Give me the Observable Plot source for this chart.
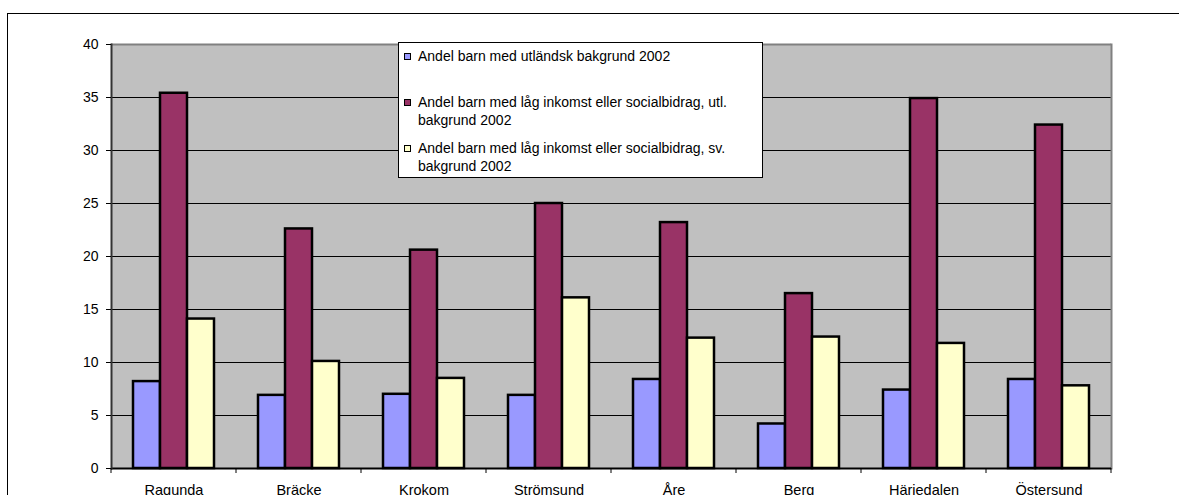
<!DOCTYPE html>
<html>
<head>
<meta charset="utf-8">
<script src="https://cdn.jsdelivr.net/npm/d3@7"></script>
<script src="https://cdn.jsdelivr.net/npm/@observablehq/plot@0.6"></script>
<style>
  body { margin: 0; background: #fff; font-family: "Liberation Sans", Arial, sans-serif; }
  #wrap { position: relative; width: 1179px; height: 495px; overflow: hidden; }
  #border { position: absolute; left: 7px; top: 13px; width: 1300px; height: 700px; border: 1.5px solid #000; }
  #chart { position: absolute; left: 0; top: 0; }
  #legend { position: absolute; left: 398px; top: 42px; width: 363px; height: 134px; border: 1px solid #000;
            background: #fff; font-size: 14px; line-height: 18px; color: #000; }
  .item { position: absolute; left: 0; padding-left: 19px; white-space: nowrap; }
  .sw { position: absolute; left: 5px; top: 6px; width: 5px; height: 5px; border: 1.5px solid #000; }
</style>
</head>
<body>
<div id="wrap">
  <div id="border"></div>
  <div id="chart"></div>
  <div id="legend"></div>
</div>
<script>
// Municipalities in Jämtland county
const municipalities = ["Ragunda", "Bräcke", "Krokom", "Strömsund", "Åre", "Berg", "Härjedalen", "Östersund"];

const seriesNames = [
  "Andel barn med utländsk bakgrund 2002",
  "Andel barn med låg inkomst eller socialbidrag, utl. bakgrund 2002",
  "Andel barn med låg inkomst eller socialbidrag, sv. bakgrund 2002"
];

// Percent of children, one value per municipality
const foreignBackground = [8.2, 6.9, 7.0, 6.9, 8.4, 4.2, 7.4, 8.4];
const lowIncomeForeign  = [35.4, 22.6, 20.6, 25.0, 23.2, 16.5, 34.9, 32.4];
const lowIncomeSwedish  = [14.1, 10.1, 8.5, 16.1, 12.3, 12.4, 11.8, 7.8];

const seriesColors = ["#9999FF", "#993366", "#FFFFCC"];
const yTicks = [0, 5, 10, 15, 20, 25, 30, 35, 40];
const gridTicks = [5, 10, 15, 20, 25, 30, 35];

const seriesValues = [foreignBackground, lowIncomeForeign, lowIncomeSwedish];
const rows = municipalities.flatMap((m, i) =>
  seriesNames.map((s, j) => ({ municipality: m, series: s, value: seriesValues[j][i] }))
);

const font = '"Liberation Sans", Arial, sans-serif';

const plot = Plot.plot({
  width: 1179,
  height: 495,
  marginLeft: 111,
  marginRight: 68,
  marginTop: 44,
  marginBottom: 27,
  style: { fontFamily: font, fontSize: "14.5px", color: "#000", background: "transparent", overflow: "visible" },
  fx: { domain: municipalities, padding: 0, label: null },
  x: { domain: seriesNames, paddingInner: 0, paddingOuter: 0.78, axis: null },
  y: { domain: [0, 40], label: null },
  color: { domain: seriesNames, range: seriesColors },
  marks: [
    // plot-area background, one panel per municipality, edges snapped so panels join seamlessly
    Plot.frame({ fill: "#C0C0C0", stroke: null, shapeRendering: "crispEdges" }),
    Plot.gridY(gridTicks, { stroke: "#000", strokeOpacity: 1, strokeWidth: 1 }),
    Plot.ruleY([40], { stroke: "#808080", strokeWidth: 2 }),
    Plot.frame({ anchor: "right", facetAnchor: "right", stroke: "#808080", strokeWidth: 2 }),
    Plot.barY(rows, { fx: "municipality", x: "series", y: "value", fill: "series", stroke: "#000", strokeWidth: 2.5 }),
    Plot.ruleY([0], { stroke: "#000", strokeWidth: 2 }),
    Plot.frame({ anchor: "left", facetAnchor: "left", stroke: "#333", strokeWidth: 2 }),
    Plot.axisY(yTicks, { tickSize: 5, tickPadding: 8, label: null, stroke: "#000", fontSize: 14 }),
    Plot.axisFx({ anchor: "bottom", tickSize: 0, tickPadding: 16, label: null })
  ]
});

// Category separator ticks below the value axis, at each band edge of the fx scale
const fx = plot.scale("fx");
const y = plot.scale("y");
const y0 = y.apply(0);
const edges = municipalities.map(m => fx.apply(m)).concat([fx.apply(municipalities[municipalities.length - 1]) + fx.bandwidth]);
d3.select(plot).append("g")
  .attr("stroke", "#000")
  .attr("stroke-width", 1)
  .selectAll("line")
  .data(edges)
  .join("line")
  .attr("x1", d => d).attr("x2", d => d)
  .attr("y1", y0).attr("y2", y0 + 5);

document.getElementById("chart").appendChild(plot);

// Legend box
const legend = d3.select("#legend");
const itemTops = [4, 50, 96];
seriesNames.forEach((name, i) => {
  const item = legend.append("div").attr("class", "item").style("top", itemTops[i] + "px");
  item.append("div").attr("class", "sw").style("background", seriesColors[i]);
  const parts = name.split(/(?<=, (?:utl|sv)\.) /);
  parts.forEach(p => item.append("div").text(p));
});
</script>
</body>
</html>
